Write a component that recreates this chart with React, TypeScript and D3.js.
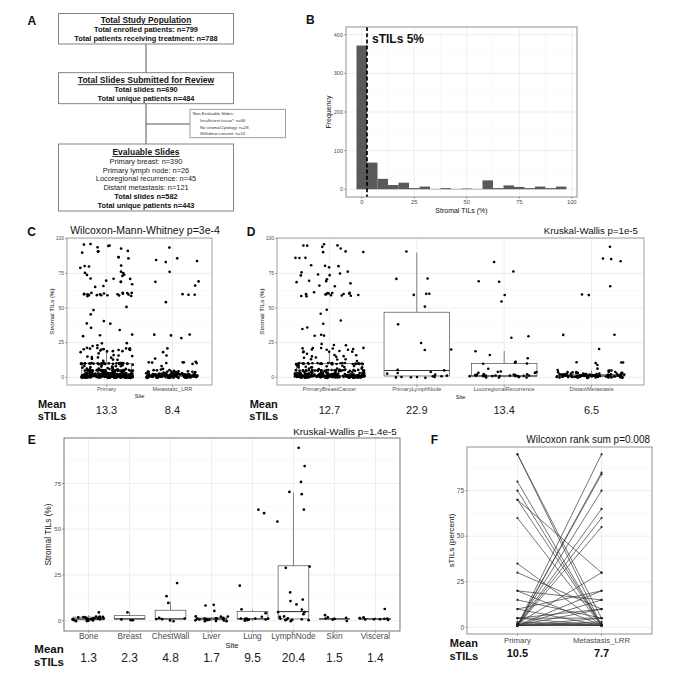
import React from 'react';
import * as d3 from 'd3';

const FONT = '"Liberation Sans", Arial, Helvetica, sans-serif';
const GREY_TXT = '#4d4d4d';

// ---------------- Panel A (flow chart text) ----------------
const popTitle = 'Total Study Population';
const popLines = ['Total enrolled patients: n=799', 'Total patients receiving treatment: n=788'];
const subTitle = 'Total Slides Submitted for Review';
const subLines = ['Total slides n=690', 'Total unique patients n=484'];
const nonEvalTitle = 'Non-Evaluable Slides:';
const nonEvalLines = ['Insufficient tissue*: n=66', 'No stroma/Cytology: n=28', 'Withdrew consent: n=14'];
const evalTitle = 'Evaluable Slides';
const evalSiteLines = ['Primary breast: n=390', 'Primary lymph node: n=26', 'Locoregional recurrence: n=45', 'Distant metastasis: n=121'];
const evalTotalLines = ['Total slides n=582', 'Total unique patients n=443'];

// ---------------- Panel B (histogram) ----------------
const histCenters = [0, 5, 10, 15, 20, 25, 30, 35, 40, 45, 50, 55, 60, 65, 70, 75, 80, 85, 90, 95];
const histFreq = [372, 69, 27, 11, 17, 3, 7, 1, 3, 1, 2, 1, 23, 3, 10, 6, 3, 7, 3, 7];
const histBinWidth = 5;
const histXTicks = [0, 25, 50, 75, 100];
const histYTicks = [0, 100, 200, 300, 400];
const sTILsCutoff = 2.5;
const sTILsLabel = 'sTILs 5%';

// ---------------- Panel D (by site), C pools these ----------------
const dSites = ['PrimaryBreastCancer', 'PrimaryLymphNode', 'LocoregionalRecurrence', 'DistantMetastasis'];
const dMeans = ['12.7', '22.9', '13.4', '6.5'];
const lowLevels = [0, 1, 2, 3, 4, 5, 6, 7, 8, 9, 10];
const pbcHigh = [93, 94, 95, 95.5, 96, 95, 91, 90, 90.5, 86.5, 86.5, 86, 80.5, 80, 80.5, 79, 76, 75, 75.5, 74, 74, 73.5, 71, 70, 69, 69, 67.5, 66, 65.5,
  60, 61, 59, 59.5, 60, 61, 60, 60.5, 59, 60, 59.5, 59, 60.5, 59, 58.5, 61, 60,
  48.5, 45.5, 41, 38.5, 36, 34.5, 30.5, 30.5, 30, 24.5, 23.5, 23, 21, 21, 20.5, 21, 21, 20.5, 20, 20, 21, 19, 18.5, 19, 18, 18.5, 16, 15, 15, 17, 14, 13, 14, 16, 12, 12.5, 15, 13];
const pbcLowCounts = [45, 110, 40, 20, 8, 35, 6, 5, 5, 3, 29];
const plnValues = [91, 51, 71, 59.5, 60, 60, 71, 38.5, 25, 20, 20, 5, 5, 3, 1, 0, 0, 0, 1, 0, 0, 1, 2, 3, 4, 0];
const lrrValues = [83.5, 76, 69, 69.5, 59.5, 54.5, 30, 28.5, 18.5, 16, 11.5, 13.5, 10.5, 6, 4, 4, 4,
  1, 1, 2, 0, 1, 3, 1, 0, 2, 1, 1, 2, 0, 1, 1, 3, 2, 1, 0, 1, 2, 1, 10, 10, 1, 0, 2, 1];
const dmHigh = [94, 86, 85, 84, 66, 59.5, 60, 31, 31, 20.5, 10.5, 10.5, 10.5, 10.5, 8.5, 6, 5, 5, 4, 4];
const dmLowCounts = [20, 45, 20, 10, 4, 2, 0, 0, 0, 0, 0];
const dBoxLo = [0, 0, 0, 0];
const dBoxQ1 = [1, 1, 1, 1];
const dBoxMed = [1, 5, 1, 1];
const dBoxQ3 = [10, 47, 10, 2];
const dBoxHi = [19.5, 90, 19, 5];

// ---------------- Panel C ----------------
const cSites = ['Primary', 'Metastatic_LRR'];
const cMeans = ['13.3', '8.4'];
const cBoxLo = [0, 0];
const cBoxQ1 = [1, 1];
const cBoxMed = [1, 1];
const cBoxQ3 = [10, 2];
const cBoxHi = [20, 4];
const pctTicks = [0, 25, 50, 75, 100];
const pctMinor = [12.5, 37.5, 62.5, 87.5];

// ---------------- Panel E (metastatic sites) ----------------
const eSites = ['Bone', 'Breast', 'ChestWall', 'Liver', 'Lung', 'LymphNode', 'Skin', 'Visceral'];
const eMeans = ['1.3', '2.3', '4.8', '1.7', '9.5', '20.4', '1.5', '1.4'];
const boneVals = [4.5, 1, 2, 0, 1, 1.5, 2, 0.5, 1, 2, 0, 1, 2, 1, 0.5, 1.5, 2, 1, 0, 1, 2, 1, 1.5, 0.5, 2, 1, 0, 1];
const breastVals = [4.9, 0.4, 1, 0];
const chestWallVals = [20.5, 9.8, 13.5, 0, 1, 1, 1, 0, 1.5];
const liverVals = [8.5, 8.5, 5.3, 1, 0, 2, 1, 0.5, 1, 1.5, 0, 1, 2, 1, 0, 1, 0.5, 1, 2, 0, 1, 1, 0.5];
const lungVals = [61, 59, 19, 4.5, 6.4, 1, 1, 0, 1, 0.5, 1, 2, 1, 0, 1];
const lymphNodeVals = [94.4, 84.4, 75.4, 70.2, 69.4, 60.5, 54.1, 29.5, 28.6, 11.7, 15.8, 10.4, 9, 5.8, 4.9, 4.5, 3.9, 1, 2, 0, 1, 0.5, 1, 2, 0, 1, 0];
const skinVals = [1, 2, 1.5, 2.7, 0, 1, 1];
const visceralVals = [6.2, 1, 0.5, 1, 1.5, 1, 2, 1, 0.5, 1];
const eBoxLo = [0, 0, 0, 0, 0, 0, 0.5, 0.5];
const eBoxQ1 = [0.5, 1, 1, 0.5, 1, 1, 1, 1];
const eBoxMed = [1, 1, 1, 1, 1, 5, 1, 1];
const eBoxQ3 = [2, 2.75, 5.75, 1.5, 5, 30, 1, 1];
const eBoxHi = [3, 4.9, 10.4, 2, 6, 70, 2, 2];
const eTicks = [0, 25, 50, 75];

// ---------------- Panel F (paired) ----------------
const fGroups = ['Primary', 'Metastasis_LRR'];
const fMeans = ['10.5', '7.7'];
const fPrimary = [95, 95, 80, 75, 70, 70, 60, 35, 30, 20, 20, 15, 10, 10, 5, 5, 1, 1, 1, 1, 1, 1, 1, 2, 1, 1, 1, 1, 1, 2, 5, 1, 1, 3, 1];
const fMet = [1, 5, 1, 1, 30, 1, 1, 1, 10, 1, 15, 5, 1, 20, 1, 10, 95, 85, 84, 75, 65, 60, 55, 30, 20, 15, 5, 1, 3, 1, 5, 10, 1, 1, 2];

// ---------------- helpers ----------------
const expand = (levels: number[], counts: number[]) => levels.flatMap((v, i) => Array(counts[i]).fill(v));
const pbcValues = [...pbcHigh, ...expand(lowLevels, pbcLowCounts)];
const dmValues = [...dmHigh, ...expand(lowLevels, dmLowCounts)];
const dGroups = [pbcValues, plnValues, lrrValues, dmValues];
const cGroups = [[...pbcValues, ...plnValues], [...lrrValues, ...dmValues]];
const eGroups = [boneVals, breastVals, chestWallVals, liverVals, lungVals, lymphNodeVals, skinVals, visceralVals];

// deterministic jitter layout (like geom_jitter: width 0.4, height 0.4)
function ihash(n: number) {
  let t = (n * 2654435761 + 0x6d2b79f5) | 0;
  t = Math.imul(t ^ (t >>> 15), t | 1);
  t ^= t + Math.imul(t ^ (t >>> 7), t | 61);
  return ((t ^ (t >>> 14)) >>> 0) / 4294967296;
}
const jx = (i: number, seed: number) => ihash(seed * 100003 + i * 2) - 0.5;
const jy = (i: number, seed: number) => ihash(seed * 100003 + i * 2 + 1) - 0.5;

interface R { x0: number; x1: number; y0: number; y1: number }

function Grid({ r, xMajor, yMajor, xMinor = [], yMinor = [] }: { r: R; xMajor: number[]; yMajor: number[]; xMinor?: number[]; yMinor?: number[] }) {
  return (
    <g>
      <rect x={r.x0} y={r.y0} width={r.x1 - r.x0} height={r.y1 - r.y0} fill="#fff" />
      {yMinor.map((y, i) => <line key={`ym${i}`} x1={r.x0} x2={r.x1} y1={y} y2={y} stroke="#f3f3f3" strokeWidth={0.5} />)}
      {xMinor.map((x, i) => <line key={`xm${i}`} x1={x} x2={x} y1={r.y0} y2={r.y1} stroke="#f3f3f3" strokeWidth={0.5} />)}
      {yMajor.map((y, i) => <line key={`yM${i}`} x1={r.x0} x2={r.x1} y1={y} y2={y} stroke="#e6e6e6" strokeWidth={0.7} />)}
      {xMajor.map((x, i) => <line key={`xM${i}`} x1={x} x2={x} y1={r.y0} y2={r.y1} stroke="#e6e6e6" strokeWidth={0.7} />)}
    </g>
  );
}

function Axes({ r, xTicks, yTicks, xFont, yFont, xLabelY, border }: {
  r: R; xTicks: { pos: number; label: string }[]; yTicks: { pos: number; label: string }[];
  xFont: number; yFont: number; xLabelY: number; border: string;
}) {
  return (
    <g>
      <rect x={r.x0} y={r.y0} width={r.x1 - r.x0} height={r.y1 - r.y0} fill="none" stroke={border} strokeWidth={0.9} />
      {yTicks.map((t, i) => (
        <g key={`yt${i}`}>
          <line x1={r.x0 - 2} x2={r.x0} y1={t.pos} y2={t.pos} stroke="#555" strokeWidth={0.5} />
          <text x={r.x0 - 3} y={t.pos} dy="0.35em" textAnchor="end" fontSize={yFont} fill={GREY_TXT}>{t.label}</text>
        </g>
      ))}
      {xTicks.map((t, i) => (
        <g key={`xt${i}`}>
          <line x1={t.pos} x2={t.pos} y1={r.y1} y2={r.y1 + 2} stroke="#555" strokeWidth={0.5} />
          <text x={t.pos} y={xLabelY} textAnchor="middle" fontSize={xFont} fill={GREY_TXT}>{t.label}</text>
        </g>
      ))}
    </g>
  );
}

function YTitle({ x, y, text, size }: { x: number; y: number; text: string; size: number }) {
  return <text transform={`translate(${x},${y}) rotate(-90)`} textAnchor="middle" dominantBaseline="central" fontSize={size} fill="#111">{text}</text>;
}

function Box({ cx, w, y, lo, q1, med, q3, hi }: { cx: number; w: number; y: d3.ScaleLinear<number, number>; lo: number; q1: number; med: number; q3: number; hi: number }) {
  return (
    <g stroke="#333" strokeWidth={0.6}>
      <line x1={cx} x2={cx} y1={y(q3)} y2={y(hi)} />
      <line x1={cx} x2={cx} y1={y(q1)} y2={y(lo)} />
      <rect x={cx - w / 2} y={y(q3)} width={w} height={Math.max(0.1, y(q1) - y(q3))} fill="#fff" />
      <line x1={cx - w / 2} x2={cx + w / 2} y1={y(med)} y2={y(med)} strokeWidth={1.1} />
    </g>
  );
}

function Jitter({ values, cx, band, y, seed, r }: { values: number[]; cx: number; band: number; y: d3.ScaleLinear<number, number>; seed: number; r: number }) {
  return (
    <g fill="#000">
      {values.map((v, i) => (
        <circle key={i} cx={cx + jx(i, seed) * 0.8 * band} cy={y(v + jy(i, seed) * 0.8)} r={r} />
      ))}
    </g>
  );
}

function MeanLabel({ cx, y1, y2, size }: { cx: number; y1: number; y2: number; size: number }) {
  return (
    <g fontWeight="bold" fontSize={size} textAnchor="middle" fill="#111">
      <text x={cx} y={y1}>Mean</text>
      <text x={cx} y={y2}>sTILs</text>
    </g>
  );
}

function PanelLabel({ x, y, t }: { x: number; y: number; t: string }) {
  return <text x={x} y={y} fontSize={12} fontWeight="bold" fill="#111">{t}</text>;
}

// ---------------- Panels ----------------
function PanelA() {
  const bx = 58.5, bw = 175, cx = bx + bw / 2;
  return (
    <g fill="#111">
      <PanelLabel x={27.5} y={25} t="A" />
      <line x1={146} x2={146} y1={44} y2={144} stroke="#555" strokeWidth={1} />
      <line x1={146} x2={190} y1={124} y2={124} stroke="#555" strokeWidth={1} />
      <rect x={bx} y={13.5} width={bw} height={30.5} fill="#fff" stroke="#777" strokeWidth={0.9} />
      <text x={cx} y={23} textAnchor="middle" fontSize={8.4} fontWeight="bold" textDecoration="underline">{popTitle}</text>
      {popLines.map((t, i) => <text key={t} x={cx} y={32.3 + i * 9} textAnchor="middle" fontSize={7.4} fontWeight="bold">{t}</text>)}

      <rect x={bx} y={72.7} width={bw} height={31} fill="#fff" stroke="#777" strokeWidth={0.9} />
      <text x={cx} y={83.3} textAnchor="middle" fontSize={8.5} fontWeight="bold" textDecoration="underline">{subTitle}</text>
      {subLines.map((t, i) => <text key={t} x={cx} y={91.9 + i * 8.9} textAnchor="middle" fontSize={7.4} fontWeight="bold">{t}</text>)}

      <rect x={190} y={109.3} width={95.5} height={28.4} fill="#fff" stroke="#888" strokeWidth={0.8} />
      <text x={192.7} y={115.3} fontSize={4.2} fill="#333">{nonEvalTitle}</text>
      {nonEvalLines.map((t, i) => <text key={t} x={200} y={122.1 + i * 6.4} fontSize={4.2} fill="#333">{t}</text>)}

      <rect x={bx} y={144} width={bw} height={67} fill="#fff" stroke="#777" strokeWidth={0.9} />
      <text x={cx} y={155} textAnchor="middle" fontSize={8.5} fontWeight="bold" textDecoration="underline">{evalTitle}</text>
      {evalSiteLines.map((t, i) => <text key={t} x={cx} y={164 + i * 8.7} textAnchor="middle" fontSize={7.4} fill="#222">{t}</text>)}
      {evalTotalLines.map((t, i) => <text key={t} x={cx} y={199 + i * 9} textAnchor="middle" fontSize={7.4} fontWeight="bold">{t}</text>)}
    </g>
  );
}

function PanelB() {
  const r = { x0: 346, x1: 577, y0: 27, y1: 197 };
  const x = d3.scaleLinear().domain([-7.5, 102.5]).range([r.x0, r.x1]);
  const y = d3.scaleLinear().domain([-20, 420]).range([r.y1, r.y0]);
  const xMinor = [12.5, 37.5, 62.5, 87.5].map(x);
  const yMinor = [50, 150, 250, 350].map(y);
  return (
    <g>
      <PanelLabel x={306} y={24.3} t="B" />
      <Grid r={r} xMajor={histXTicks.map(x)} yMajor={histYTicks.map(y)} xMinor={xMinor} yMinor={yMinor} />
      {histCenters.map((c, i) => (
        <rect key={i} x={x(c - histBinWidth / 2)} width={x(c + histBinWidth / 2) - x(c - histBinWidth / 2)}
          y={y(histFreq[i])} height={y(0) - y(histFreq[i])} fill="#595959" />
      ))}
      <line x1={x(sTILsCutoff)} x2={x(sTILsCutoff)} y1={r.y0} y2={r.y1} stroke="#000" strokeWidth={1.7} strokeDasharray="4 2.2" />
      <text x={x(sTILsCutoff) + 5} y={y(400) + 8} fontSize={12} fontWeight="bold" fill="#111">{sTILsLabel}</text>
      <Axes r={r} border="#888" xFont={5.8} yFont={5.5} xLabelY={203.5}
        xTicks={histXTicks.map(t => ({ pos: x(t), label: String(t) }))}
        yTicks={histYTicks.map(t => ({ pos: y(t), label: String(t) }))} />
      <text x={(r.x0 + r.x1) / 2} y={212.5} textAnchor="middle" fontSize={7} fill="#111">Stromal TILs (%)</text>
      <YTitle x={328.3} y={112} text="Frequency" size={7} />
    </g>
  );
}

function PanelC() {
  const r = { x0: 67, x1: 212, y0: 238, y1: 385 };
  const x = d3.scalePoint<string>().domain(cSites).range([r.x0, r.x1]).padding(0.6);
  const y = d3.scaleLinear().domain([-5.5, 100.5]).range([r.y1, r.y0]);
  const step = x.step();
  return (
    <g>
      <PanelLabel x={27.3} y={236} t="C" />
      <text x={145} y={234} textAnchor="middle" fontSize={10.5} fill="#111">Wilcoxon-Mann-Whitney p=3e-4</text>
      <Grid r={r} xMajor={cSites.map(s => x(s)!)} yMajor={pctTicks.map(y)} yMinor={pctMinor.map(y)} />
      {cSites.map((s, i) => (
        <Box key={s} cx={x(s)!} w={0.75 * step} y={y} lo={cBoxLo[i]} q1={cBoxQ1[i]} med={cBoxMed[i]} q3={cBoxQ3[i]} hi={cBoxHi[i]} />
      ))}
      {cSites.map((s, i) => <Jitter key={s} values={cGroups[i]} cx={x(s)!} band={step} y={y} seed={11 + i * 7} r={1.35} />)}
      <Axes r={r} border="#999" xFont={5.6} yFont={5} xLabelY={391.3}
        xTicks={cSites.map(s => ({ pos: x(s)!, label: s }))}
        yTicks={pctTicks.map(t => ({ pos: y(t), label: String(t) }))} />
      <text x={(r.x0 + r.x1) / 2} y={398} textAnchor="middle" fontSize={5.6} fill="#111">Site</text>
      <YTitle x={51.7} y={(r.y0 + r.y1) / 2} text="Stromal TILs (%)" size={6.2} />
      <MeanLabel cx={52} y1={408.3} y2={420} size={11} />
      {cSites.map((s, i) => <text key={s} x={x(s)!} y={414} textAnchor="middle" fontSize={11} fill="#222">{cMeans[i]}</text>)}
    </g>
  );
}

function PanelD() {
  const r = { x0: 277, x1: 644, y0: 238, y1: 385 };
  const x = d3.scalePoint<string>().domain(dSites).range([r.x0, r.x1]).padding(0.6);
  const y = d3.scaleLinear().domain([-5.5, 100.5]).range([r.y1, r.y0]);
  const step = x.step();
  return (
    <g>
      <PanelLabel x={246.7} y={235.7} t="D" />
      <text x={638} y={234} textAnchor="end" fontSize={9.7} fill="#111">Kruskal-Wallis p=1e-5</text>
      <Grid r={r} xMajor={dSites.map(s => x(s)!)} yMajor={pctTicks.map(y)} yMinor={pctMinor.map(y)} />
      {dSites.map((s, i) => (
        <Box key={s} cx={x(s)!} w={0.75 * step} y={y} lo={dBoxLo[i]} q1={dBoxQ1[i]} med={dBoxMed[i]} q3={dBoxQ3[i]} hi={dBoxHi[i]} />
      ))}
      {dSites.map((s, i) => <Jitter key={s} values={dGroups[i]} cx={x(s)!} band={step} y={y} seed={31 + i * 5} r={1.3} />)}
      <Axes r={r} border="#999" xFont={5.6} yFont={5} xLabelY={391.3}
        xTicks={dSites.map(s => ({ pos: x(s)!, label: s }))}
        yTicks={pctTicks.map(t => ({ pos: y(t), label: String(t) }))} />
      <text x={(r.x0 + r.x1) / 2} y={398.7} textAnchor="middle" fontSize={5.6} fill="#111">Site</text>
      <YTitle x={261.7} y={(r.y0 + r.y1) / 2} text="Stromal TILs (%)" size={6.2} />
      <MeanLabel cx={263.7} y1={408.3} y2={420} size={11} />
      {dSites.map((s, i) => <text key={s} x={x(s)!} y={414} textAnchor="middle" fontSize={11} fill="#222">{dMeans[i]}</text>)}
    </g>
  );
}

function PanelE() {
  const r = { x0: 64, x1: 400, y0: 438, y1: 631 };
  const x = d3.scalePoint<string>().domain(eSites).range([r.x0, r.x1]).padding(0.6);
  const y = d3.scaleLinear().domain([-5.6, 99.8]).range([r.y1, r.y0]);
  const step = x.step();
  return (
    <g>
      <PanelLabel x={27.7} y={444} t="E" />
      <text x={396.7} y={435} textAnchor="end" fontSize={9.8} fill="#111">Kruskal-Wallis p=1.4e-5</text>
      <Grid r={r} xMajor={eSites.map(s => x(s)!)} yMajor={eTicks.map(y)} yMinor={pctMinor.map(y)} />
      {eSites.map((s, i) => (
        <Box key={s} cx={x(s)!} w={0.75 * step} y={y} lo={eBoxLo[i]} q1={eBoxQ1[i]} med={eBoxMed[i]} q3={eBoxQ3[i]} hi={eBoxHi[i]} />
      ))}
      {eSites.map((s, i) => <Jitter key={s} values={eGroups[i]} cx={x(s)!} band={step} y={y} seed={53 + i * 3} r={1.35} />)}
      <Axes r={r} border="#666" xFont={8.3} yFont={6} xLabelY={639}
        xTicks={eSites.map(s => ({ pos: x(s)!, label: s }))}
        yTicks={eTicks.map(t => ({ pos: y(t), label: String(t) }))} />
      <text x={(r.x0 + r.x1) / 2} y={648} textAnchor="middle" fontSize={7.5} fill="#111">Site</text>
      <YTitle x={47.7} y={(r.y0 + r.y1) / 2} text="Stromal TILs (%)" size={8.3} />
      <MeanLabel cx={49} y1={652.7} y2={665.7} size={11.5} />
      {eSites.map((s, i) => <text key={s} x={x(s)!} y={661.7} textAnchor="middle" fontSize={12} fill="#222">{eMeans[i]}</text>)}
    </g>
  );
}

function PanelF() {
  const r = { x0: 467, x1: 652, y0: 447, y1: 634 };
  const x = d3.scalePoint<string>().domain(fGroups).range([r.x0, r.x1]).padding(0.6);
  const y = d3.scaleLinear().domain([-3.7, 99]).range([r.y1, r.y0]);
  const xa = x(fGroups[0])!, xb = x(fGroups[1])!;
  return (
    <g>
      <PanelLabel x={430.7} y={444.3} t="F" />
      <text x={650} y={443.3} textAnchor="end" fontSize={10} fill="#111">Wilcoxon rank  sum p=0.008</text>
      <Grid r={r} xMajor={[xa, xb]} yMajor={eTicks.map(y)} yMinor={pctMinor.map(y)} />
      <g stroke="#333" strokeWidth={0.75} strokeOpacity={0.9}>
        {fPrimary.map((p, i) => <line key={i} x1={xa} x2={xb} y1={y(p)} y2={y(fMet[i])} />)}
      </g>
      <g fill="#222">
        {fPrimary.map((p, i) => <circle key={`a${i}`} cx={xa} cy={y(p)} r={1.1} />)}
        {fMet.map((m, i) => <circle key={`b${i}`} cx={xb} cy={y(m)} r={1.1} />)}
      </g>
      <Axes r={r} border="#888" xFont={7.8} yFont={6.5} xLabelY={642.5}
        xTicks={fGroups.map(s => ({ pos: x(s)!, label: s }))}
        yTicks={eTicks.map(t => ({ pos: y(t), label: String(t) }))} />
      <YTitle x={451.7} y={(r.y0 + r.y1) / 2} text="sTILs (percent)" size={8} />
      <MeanLabel cx={463.8} y1={647.3} y2={660} size={11} />
      {fGroups.map((s, i) => <text key={s} x={x(s)!} y={657.3} textAnchor="middle" fontSize={11} fontWeight="bold" fill="#111">{fMeans[i]}</text>)}
    </g>
  );
}

export default function App() {
  return (
    <svg width={680} height={673} viewBox="0 0 680 673"
      style={{ position: 'absolute', left: 0, top: 0, background: '#fff', fontFamily: FONT }}>
      <rect width={680} height={673} fill="#fff" />
      <PanelA />
      <PanelB />
      <PanelC />
      <PanelD />
      <PanelE />
      <PanelF />
    </svg>
  );
}
